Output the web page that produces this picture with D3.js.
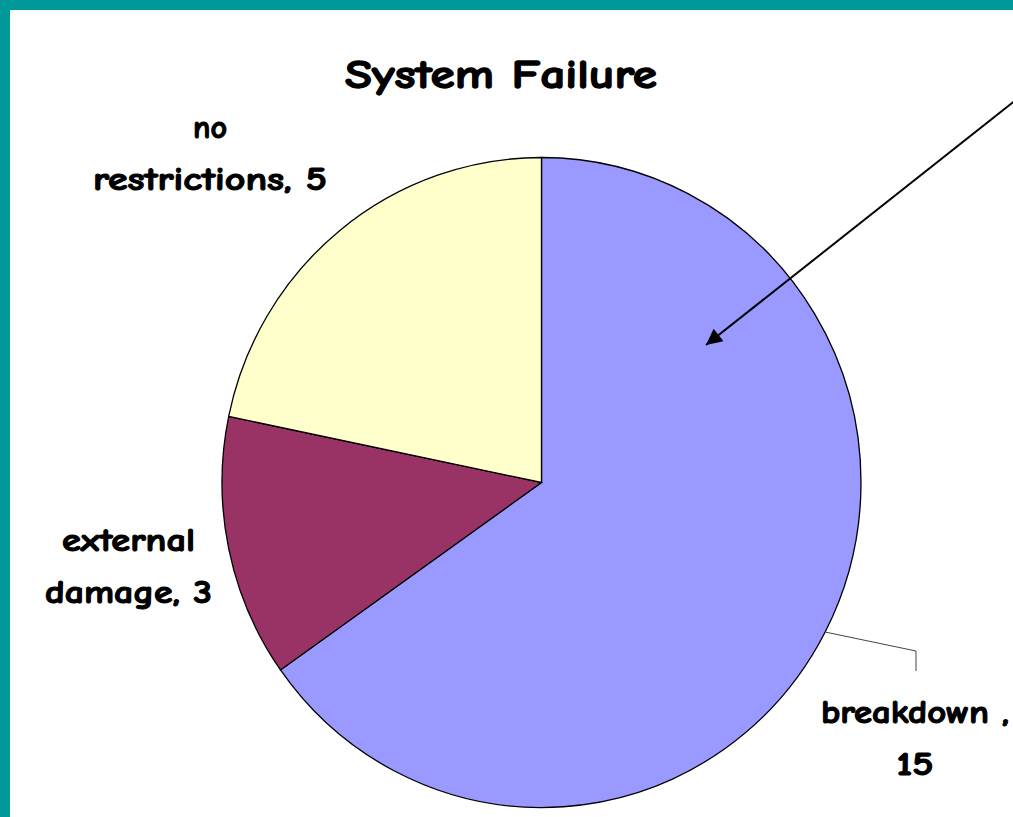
<!DOCTYPE html>
<html>
<head>
<meta charset="utf-8">
<script src="https://cdn.jsdelivr.net/npm/d3@7/dist/d3.min.js"></script>
<style>
  html, body { margin: 0; padding: 0; background: #fff; }
  svg { display: block; }
  text { font-family: "Comic Sans MS", "Comic Neue", "DejaVu Sans", sans-serif; font-weight: bold; fill: #000; stroke: #000; }
</style>
</head>
<body>
<script>
// Failure causes and counts
const categories = ["breakdown", "external damage", "no restrictions"];
const values = [15, 3, 5];
const colors = ["#9999FF", "#993366", "#FFFFCC"];
// Label lines per slice
const labelLines = [["breakdown ,", "15"], ["external", "damage, 3"], ["no", "restrictions, 5"]];
const labelWidths = [[188, 37], [133, 167], [34, 234]];

const W = 1013, H = 817;
const cx = 541.5, cy = 482.5, rx = 319.5, ry = 325;

const svg = d3.select("body").append("svg").attr("width", W).attr("height", H);

// Slide frame
svg.append("rect").attr("x", 0).attr("y", 0).attr("width", W).attr("height", 10).attr("fill", "#009999");
svg.append("rect").attr("x", 0).attr("y", 0).attr("width", 10).attr("height", H).attr("fill", "#009999");

svg.append("text").attr("x", 501).attr("y", 88).attr("text-anchor", "middle")
  .attr("textLength", 312).attr("lengthAdjust", "spacingAndGlyphs")
  .style("font-size", "41px").style("stroke-width", 1.3).text("System Failure");

const pie = d3.pie().sort(null).value(d => d)(values);
const arc = d3.arc().innerRadius(0).outerRadius(rx);

const g = svg.append("g").attr("transform", `translate(${cx},${cy}) scale(1,${ry / rx})`);
g.selectAll("path").data(pie).join("path")
  .attr("d", arc)
  .attr("fill", (d, i) => colors[i])
  .attr("stroke", "#000")
  .attr("stroke-width", 1.3)
  .attr("vector-effect", "non-scaling-stroke");

// Leader line for the breakdown slice, from the slice's outer mid point
const b = pie[0];
const mid = (b.startAngle + b.endAngle) / 2;
const p0 = [cx + rx * Math.sin(mid), cy - ry * Math.cos(mid)];
svg.append("polyline")
  .attr("points", [p0, [916, 651], [916, 671]].map(p => p.join(",")).join(" "))
  .attr("fill", "none").attr("stroke", "#444").attr("stroke-width", 1);

// Label anchors: centre x, first baseline
const labelPos = [[915, 723], [128.5, 551], [210, 138]];
const lineGap = 52;
labelLines.forEach((lines, i) => {
  const t = svg.append("text").attr("text-anchor", "middle")
    .style("font-size", "33px").style("stroke-width", 1.1);
  lines.forEach((s, j) => {
    t.append("tspan").attr("x", labelPos[i][0]).attr("y", labelPos[i][1] + j * lineGap)
      .attr("textLength", labelWidths[i][j]).attr("lengthAdjust", "spacingAndGlyphs")
      .text(s);
  });
});

// Pointer arrow into the breakdown slice
const defs = svg.append("defs");
defs.append("marker").attr("id", "head").attr("viewBox", "0 0 10 10")
  .attr("refX", 10).attr("refY", 5).attr("markerWidth", 9).attr("markerHeight", 8)
  .attr("markerUnits", "strokeWidth").attr("orient", "auto")
  .append("path").attr("d", "M0,0 L10,5 L0,10 Z").attr("fill", "#000");
svg.append("line").attr("x1", 1026).attr("y1", 92).attr("x2", 706).attr("y2", 345)
  .attr("stroke", "#000").attr("stroke-width", 2).attr("marker-end", "url(#head)");
</script>
</body>
</html>
